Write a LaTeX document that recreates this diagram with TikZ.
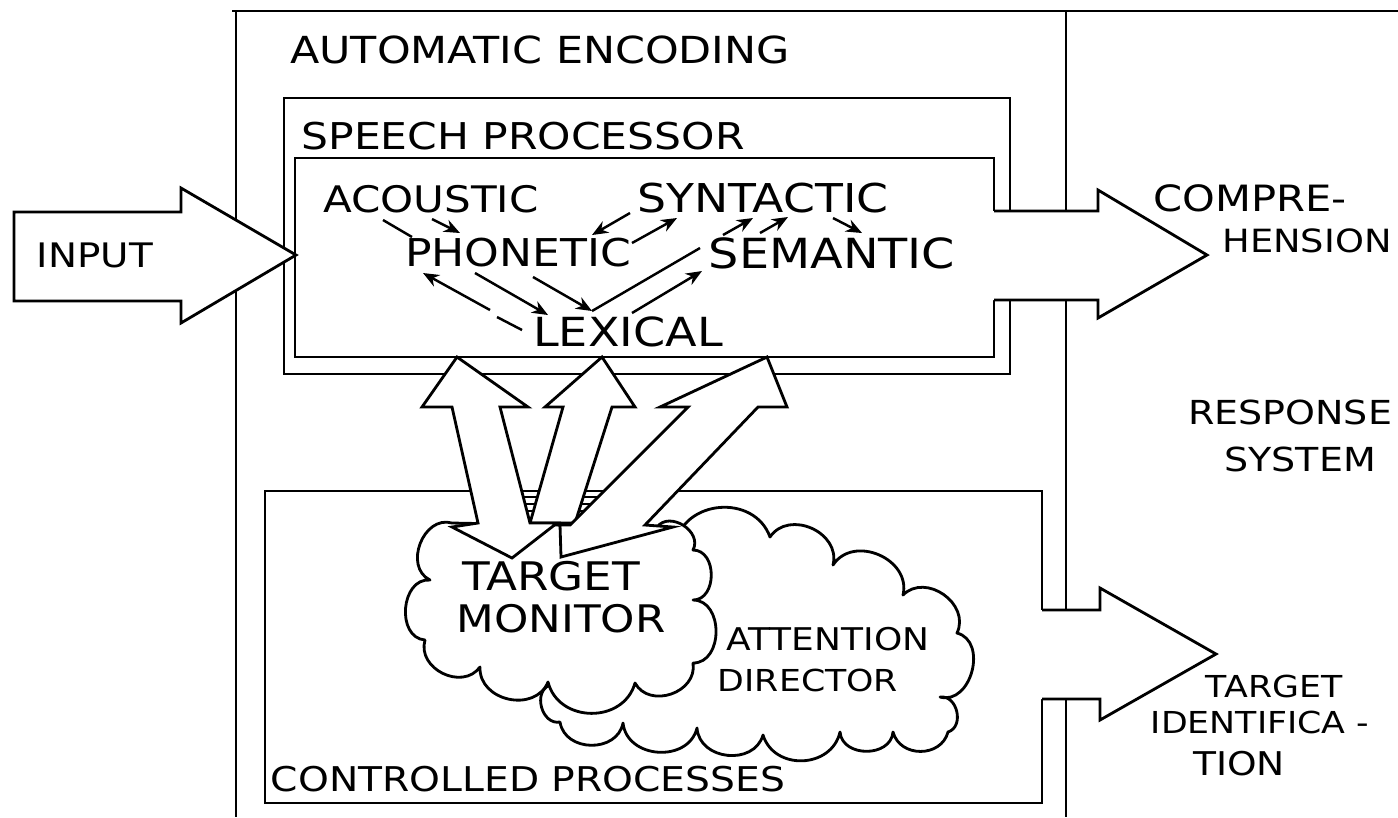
\documentclass[tikz,border=0pt]{standalone}
\usepackage{fontspec}
\setmainfont{DejaVu Sans}
\newfontfamily\hand[FakeStretch=1.15]{DejaVu Sans}
\usetikzlibrary{
    arrows.meta,
    positioning,
    calc,
}

\begin{document}
\begin{tikzpicture}[
        x=0.01cm, y=-0.01cm,
        line width=0.8pt,
        lbl/.style={inner sep=0pt, font=\hand\fontsize{#1}{#1}\selectfont},
        lbl/.default=10.5,
        lvl/.style={-{Stealth[length=1.6mm, width=1.3mm]}, line width=0.7pt},
        bigarrow/.style={draw, fill=white, line join=miter},
        puff/.style={draw, fill=white, line join=round},
        out lobe/.style={bend left=#1, looseness=1.25},
        in lobe/.style={bend right=#1, looseness=1.25},
    ]
    \useasboundingbox (0,0) rectangle (1398,817);

    % frames
    \draw (232,11) -- (1398,11);
    \draw (236,11) -- (236,817);
    \draw (1066,11) -- (1066,817);
    \draw (284,98) rectangle (1010,374);
    \draw (295,158) rectangle (994,357);
    \draw (265,491) rectangle (1042,803);

    % clouds
    \draw[puff] (550,685) -- (600,620) -- (675,545)
        to[out lobe=75] (770,537) to[out lobe=80] (833,565)
        to[out lobe=80] (903,595) to[out lobe=80] (957,633)
        to[out lobe=90] (940,697) to[out lobe=85] (948,732)
        to[out lobe=75] (893,732) to[out lobe=85] (840,732)
        to[out lobe=75] (763,735) to[out lobe=80] (697,728)
        to[out lobe=80] (623,723) to[out lobe=80] (560,722)
        to[out lobe=85] cycle;
    \draw[puff] (452,523) to[in lobe=85] (430,580) to[in lobe=90] (425,640)
        to[in lobe=80] (480,667) to[in lobe=80] (548,682)
        to[in lobe=75] (635,683) to[in lobe=80] (693,663)
        to[in lobe=90] (693,600) to[in lobe=90] (693,550)
        to[in lobe=85] (657,527) -- cycle;

    % shading in the gaps between the arrows
    \foreach \y in {497,504,511}
        \draw[line width=0.5pt] (510,\y) -- (620,\y);

    % arrows between the two systems
    \draw[bigarrow] (602,357) -- (635,407) -- (612,407) -- (575,523) -- (530,523)
        -- (563,407) -- (545,407) -- cycle;
    \draw[bigarrow] (767,357) -- (787,407) -- (758,407) -- (645,525) -- (673,527)
        -- (561,557) -- (560,525) -- (570,525) -- (688,407) -- (660,407) -- cycle;
    \draw[bigarrow] (457,357) -- (528,407) -- (500,407) -- (530,523) -- (557,523)
        -- (512,558) -- (452,527) -- (478,523) -- (452,407) -- (422,407) -- cycle;

    % input and outputs
    \draw[bigarrow] (296,255) -- (181,188) -- (181,212) -- (14,212) -- (14,301)
        -- (181,301) -- (181,323) -- cycle;
    \fill[white] (990,211) -- (1098,211) -- (1098,190) -- (1207,255) -- (1098,318)
        -- (1098,300) -- (990,300) -- cycle;
    \draw (994,211) -- (1098,211) -- (1098,190) -- (1207,255) -- (1098,318)
        -- (1098,300) -- (994,300);
    \fill[white] (1038,610) -- (1100,610) -- (1100,588) -- (1216,654) -- (1100,720)
        -- (1100,699) -- (1038,699) -- cycle;
    \draw (1042,610) -- (1100,610) -- (1100,588) -- (1216,654) -- (1100,720)
        -- (1100,699) -- (1042,699);

    % labels
    \node[lbl=10.6] (autoenc) at (540,50) {AUTOMATIC ENCODING};
    \node[lbl=10.5] (speechproc) at (523,136) {SPEECH PROCESSOR};
    \node[lbl=10.4] (acoustic) at (431,199) {ACOUSTIC};
    \node[lbl=10.9] (phonetic) at (518,253) {PHONETIC};
    \node[lbl=11.3] (syntactic) at (763,198) {SYNTACTIC};
    \node[lbl=11.8] (semantic) at (832,253) {SEMANTIC};
    \node[lbl=11.4] (lexical) at (628,332) {LEXICAL};
    \node[lbl=9.6] (input) at (95,255) {INPUT};
    \node[lbl=10.3] (compre) at (1250,198) {COMPRE-};
    \node[lbl=9.1] (hension) at (1307,241) {HENSION};
    \node[lbl=9.4] (response) at (1290,412) {RESPONSE};
    \node[lbl=9.4] (system) at (1300,459) {SYSTEM};
    \node[lbl=11.2] (target) at (551,576) {TARGET};
    \node[lbl=10.8] (monitor) at (561,619) {MONITOR};
    \node[lbl=8.9] (attention) at (828,639) {ATTENTION};
    \node[lbl=8.6] (director) at (808,680) {DIRECTOR};
    \node[lbl=9.7] (controlled) at (528,779) {CONTROLLED PROCESSES};
    \node[lbl=8.6] (tgtid) at (1274,686) {TARGET};
    \node[lbl=8.6] (identif) at (1260,722) {IDENTIFICA -};
    \node[lbl=9.3] (tion) at (1239,764) {TION};

    % links between the levels
    \coordinate (acA) at (383,220);  \coordinate (phA) at (412,237);
    \coordinate (acB) at (432,219);  \coordinate (phB) at (460,233);
    \coordinate (syA) at (630,213);  \coordinate (phC) at (592,235);
    \coordinate (phD) at (632,243);  \coordinate (syB) at (677,218);
    \coordinate (seA) at (723,235);  \coordinate (syC) at (753,218);
    \coordinate (seB) at (760,233);  \coordinate (syD) at (788,217);
    \coordinate (syE) at (833,218);  \coordinate (seC) at (862,233);
    \coordinate (lxA) at (522,330);  \coordinate (lxB) at (497,317);
    \coordinate (lxC) at (490,310);  \coordinate (phE) at (423,273);
    \coordinate (phF) at (475,273);  \coordinate (lxD) at (548,315);
    \coordinate (phG) at (533,277);  \coordinate (lxV) at (592,311);
    \coordinate (seD) at (700,248);
    \coordinate (lxE) at (632,313);  \coordinate (seE) at (702,271);

    \draw[line width=0.7pt] (acA) -- (phA);
    \draw[lvl] (acB) -- (phB);
    \draw[lvl] (syA) -- (phC);
    \draw[lvl] (phD) -- (syB);
    \draw[lvl] (seA) -- (syC);
    \draw[lvl] (seB) -- (syD);
    \draw[lvl] (syE) -- (seC);
    \draw[line width=0.7pt] (lxA) -- (lxB);
    \draw[lvl] (lxC) -- (phE);
    \draw[lvl] (phF) -- (lxD);
    \draw[lvl] (phG) -- (lxV);
    \draw[line width=0.7pt] (lxV) -- (seD);
    \draw[lvl] (lxE) -- (seE);
\end{tikzpicture}
\end{document}
